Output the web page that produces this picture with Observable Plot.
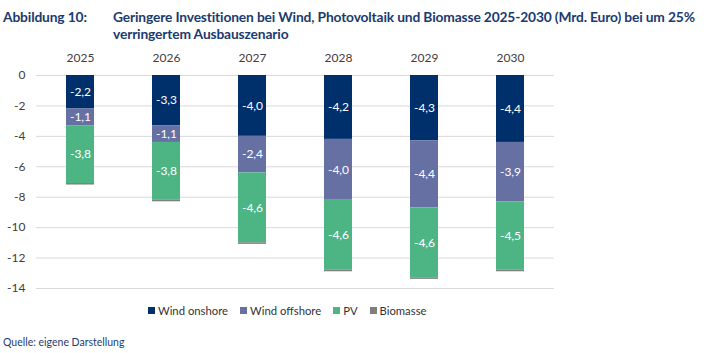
<!DOCTYPE html>
<html>
<head>
<meta charset="utf-8">
<script src="https://cdn.jsdelivr.net/npm/d3@7"></script>
<script src="https://cdn.jsdelivr.net/npm/@observablehq/plot@0.6"></script>
<style>
  html, body { margin: 0; padding: 0; background: #fff; }
  body { width: 710px; height: 353px; position: relative; overflow: hidden; font-family: Lato, "Open Sans", sans-serif; }
  #title { position: absolute; left: 0; top: 8px; width: 710px; height: 40px; color: #1b3a6f; font-weight: 700; font-size: 13.8px; line-height: 17px; letter-spacing: -0.15px; white-space: nowrap; }
  #title .lab { position: absolute; left: 3px; top: 0; }
  #title .txt { position: absolute; left: 113px; top: 0; }
  #chart { position: absolute; left: 0; top: 45px; }
  #legend { position: absolute; left: 148px; top: 304px; display: flex; gap: 12px; font-size: 11.3px; color: #333; }
  #legend .it { display: flex; align-items: center; }
  #legend .sw { width: 7px; height: 7px; margin-right: 3px; }
  #caption { position: absolute; left: 3px; top: 336px; font-size: 10.5px; color: #1f3c73; }
</style>
</head>
<body>
<div id="title"><span class="lab">Abbildung 10:</span><span class="txt">Geringere Investitionen bei Wind, Photovoltaik und Biomasse 2025-2030 (Mrd. Euro) bei um 25%<br>verringertem Ausbauszenario</span></div>
<div id="chart"></div>
<div id="legend"></div>
<div id="caption">Quelle: eigene Darstellung</div>
<script>
const years = ["2025", "2026", "2027", "2028", "2029", "2030"];
const seriesNames = ["Wind onshore", "Wind offshore", "PV", "Biomasse"];
const windOnshore = [-2.2, -3.3, -4.0, -4.2, -4.3, -4.4];
const windOffshore = [-1.1, -1.1, -2.4, -4.0, -4.4, -3.9];
const pv = [-3.8, -3.8, -4.6, -4.6, -4.6, -4.5];
const biomasse = [-0.1, -0.1, -0.1, -0.1, -0.1, -0.1];
const yTicks = [0, -2, -4, -6, -8, -10, -12, -14];
const colors = ["#00306b", "#6670a3", "#4db584", "#7f7f7f"];

const seriesValues = [windOnshore, windOffshore, pv, biomasse];
const data = [];
seriesNames.forEach((s, i) => years.forEach((y, j) => data.push({year: y, series: s, value: seriesValues[i][j]})));

const fmt = v => v.toFixed(1).replace(".", ",");

const chart = Plot.plot({
  width: 710,
  height: 255,
  marginLeft: 36,
  marginRight: 156,
  marginTop: 30,
  marginBottom: 12,
  style: {fontFamily: "Lato, 'Open Sans', sans-serif", fontSize: "12px", color: "#404040", background: "transparent"},
  x: {domain: years, paddingInner: 0.67, paddingOuter: 0.335, axis: "top", tickSize: 0, tickPadding: 14, label: null},
  y: {domain: [-14, 0], ticks: yTicks, tickSize: 0, tickPadding: 11, tickFormat: d => String(d), label: null},
  color: {domain: seriesNames, range: colors},
  marks: [
    Plot.ruleY(yTicks, {stroke: "#d9d9d9", strokeWidth: 1}),
    Plot.barY(data, Plot.stackY({order: seriesNames, x: "year", y: "value", fill: "series", z: "series"})),
    Plot.text(data, Plot.stackY({
      order: seriesNames,
      x: "year", y: "value", z: "series",
      text: d => d.series === "Biomasse" ? null : fmt(d.value),
      fill: "white", fontSize: 12
    }))
  ]
});
document.getElementById("chart").appendChild(chart);

const legend = document.getElementById("legend");
seriesNames.forEach((s, i) => {
  const it = document.createElement("div");
  it.className = "it";
  const sw = document.createElement("span");
  sw.className = "sw";
  sw.style.background = colors[i];
  const t = document.createElement("span");
  t.textContent = s;
  it.appendChild(sw); it.appendChild(t);
  legend.appendChild(it);
});
</script>
</body>
</html>
